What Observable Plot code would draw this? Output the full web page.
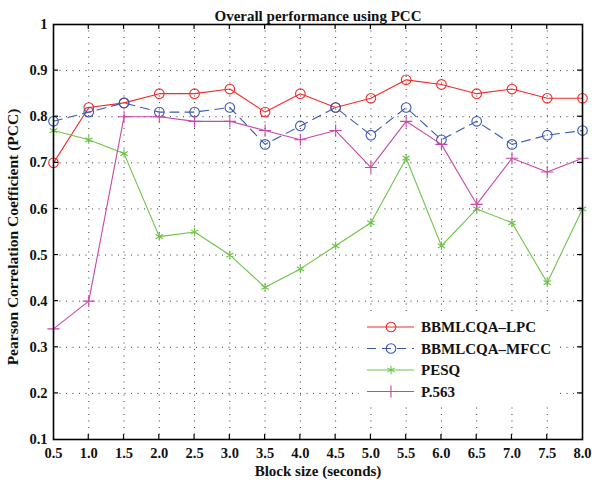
<!DOCTYPE html>
<html><head><meta charset="utf-8">
<script src="https://cdn.jsdelivr.net/npm/d3@7"></script>
<script src="https://cdn.jsdelivr.net/npm/@observablehq/plot@0.6"></script>
<style>
body{margin:0;background:#fff}
svg{font-family:"Liberation Serif","Times New Roman",serif}
</style>
</head><body><div id="chart"></div>
<script>
const blockSizes = [0.5,1.0,1.5,2.0,2.5,3.0,3.5,4.0,4.5,5.0,5.5,6.0,6.5,7.0,7.5,8.0];
const lpc  = [0.70,0.82,0.83,0.85,0.85,0.86,0.81,0.85,0.82,0.84,0.88,0.87,0.85,0.86,0.84,0.84];
const mfcc = [0.79,0.81,0.83,0.81,0.81,0.82,0.74,0.78,0.82,0.76,0.82,0.75,0.79,0.74,0.76,0.77];
const pesq = [0.77,0.75,0.72,0.54,0.55,0.50,0.43,0.47,0.52,0.57,0.71,0.52,0.60,0.57,0.44,0.60];
const p563 = [0.34,0.40,0.80,0.80,0.79,0.79,0.77,0.75,0.77,0.69,0.79,0.74,0.61,0.71,0.68,0.71];
const seriesNames = ["BBMLCQA–LPC","BBMLCQA–MFCC","PESQ","P.563"];
const yTicks = [0.1,0.2,0.3,0.4,0.5,0.6,0.7,0.8,0.9,1];
const titleText = "Overall performance using PCC";
const xLabel = "Block size (seconds)";
const yLabel = "Pearson Correlation Coefficient (PCC)";

const styles = [
  {color:"#f22a2a", symbol:"circle", dash:null, r:4.8},
  {color:"#3a58b0", symbol:"circle", dash:"9,6", r:4.8},
  {color:"#6cc447", symbol:"asterisk", dash:null, r:4},
  {color:"#c847a8", symbol:"plus", dash:null, r:4}
];
const values = [lpc, mfcc, pesq, p563];
const rows = [];
values.forEach((vals, s) => vals.forEach((v, i) => rows.push({series: seriesNames[s], x: blockSizes[i], y: v})));

const seriesMarks = [];
seriesNames.forEach((name, s) => {
  const st = styles[s];
  const data = rows.filter(d => d.series === name);
  seriesMarks.push(Plot.line(data, {x:"x", y:"y", stroke: st.color, strokeWidth:1.1, strokeDasharray: st.dash || undefined}));
  seriesMarks.push(Plot.dot(data, {x:"x", y:"y", stroke: st.color, fill:"none", symbol: st.symbol, r: st.r, strokeWidth:1.1}));
});

const plot = Plot.plot({
  width:592, height:486,
  marginLeft:53, marginRight:10, marginTop:24, marginBottom:47,
  style:{fontFamily:'"Liberation Serif","Times New Roman",serif', background:"#fff", overflow:"visible"},
  x:{domain:[0.5,8]},
  y:{domain:[0.1,1]},
  marks:[
    Plot.gridX(blockSizes.slice(1,-1), {stroke:"#222", strokeOpacity:0.9, strokeDasharray:"1,5.5", strokeWidth:1}),
    Plot.gridY(yTicks.slice(1,-1), {stroke:"#222", strokeOpacity:0.9, strokeDasharray:"1,5.5", strokeWidth:1}),
    Plot.axisX(blockSizes, {tickSize:0, tickPadding:8, tickFormat: d => d.toFixed(1), fontSize:14.5, fontWeight:"bold", label:null, fill:"#111"}),
    Plot.axisY(yTicks, {tickSize:0, tickPadding:6, tickFormat: d => d === 1 ? "1" : d.toFixed(1), fontSize:14.5, fontWeight:"bold", label:null, fill:"#111"}),
    ...seriesMarks,
    Plot.frame({stroke:"#000", strokeWidth:1.6}),
    Plot.text([titleText], {frameAnchor:"top", dy:-14, fontSize:15, fontWeight:"bold", fill:"#111"}),
    Plot.text([xLabel], {frameAnchor:"bottom", dy:36, fontSize:15, fontWeight:"bold", fill:"#111"}),
    Plot.text([yLabel], {frameAnchor:"left", textAnchor:"middle", dx:-40, dy:5, rotate:-90, fontSize:15.5, fontWeight:"bold", fill:"#111"})
  ]
});
document.getElementById("chart").appendChild(plot);

// inward ticks on all four sides
const sx = plot.scale("x"), sy = plot.scale("y");
const svg = d3.select(plot);
const x0 = sx.range[0], x1 = sx.range[1], y0 = sy.range[0], y1 = sy.range[1];
const g = svg.append("g").attr("stroke","#000").attr("stroke-width",1.2);
blockSizes.slice(1,-1).forEach(v => {
  const px = sx.apply(v);
  g.append("line").attr("x1",px).attr("x2",px).attr("y1",y0).attr("y2",y0-5);
  g.append("line").attr("x1",px).attr("x2",px).attr("y1",y1).attr("y2",y1+5);
});
yTicks.slice(1,-1).forEach(v => {
  const py = sy.apply(v);
  g.append("line").attr("x1",x0).attr("x2",x0+5).attr("y1",py).attr("y2",py);
  g.append("line").attr("x1",x1).attr("x2",x1-5).attr("y1",py).attr("y2",py);
});

// legend
const lg = svg.append("g").attr("text-anchor","start");
lg.append("rect").attr("x",359).attr("y",314).attr("width",200).attr("height",90).attr("fill","#fff");
const symbolMap = {circle: d3.symbolCircle, asterisk: d3.symbolAsterisk, plus: d3.symbolPlus};
seriesNames.forEach((name, s) => {
  const st = styles[s];
  const yy = 327 + s * 21.5;
  lg.append("line").attr("x1",367).attr("x2",414).attr("y1",yy).attr("y2",yy)
    .attr("stroke",st.color).attr("stroke-width",1.1).attr("stroke-dasharray", st.dash ? "9,6" : null);
  const area = Math.PI * st.r * st.r;
  lg.append("path").attr("d", d3.symbol(symbolMap[st.symbol], area)()).attr("transform",`translate(391,${yy})`)
    .attr("stroke",st.color).attr("fill","none").attr("stroke-width",1.1);
  lg.append("text").attr("x",421).attr("y",yy).attr("dy","0.35em").attr("text-anchor","start")
    .attr("font-size",15).attr("font-weight","bold").attr("fill","#111").text(name);
});
</script>
</body></html>
